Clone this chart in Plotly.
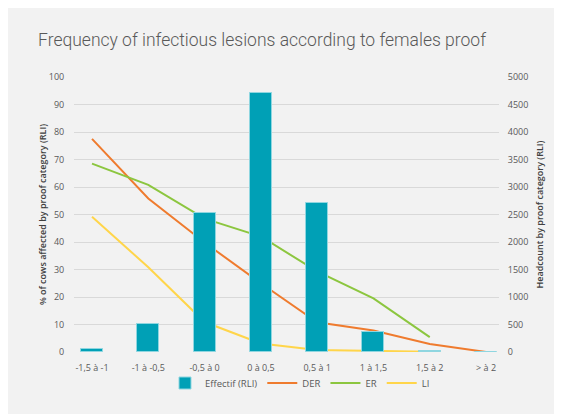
import plotly.graph_objects as go

categories = ["-1,5 à -1", "-1 à -0,5", "-0,5 à 0", "0 à 0,5", "0,5 à 1", "1 à 1,5", "1,5 à 2", "> à 2"]
effectif = [55, 510, 2530, 4710, 2710, 370, 15, 0]
der = [77.5, 55.8, 39.8, 25.0, 10.8, 7.8, 2.9, 0.0]
er = [68.5, 60.8, 48.5, 42.0, 29.3, 19.5, 5.4, None]
li = [49.2, 30.8, 10.9, 3.1, 0.7, 0.4, 0.1, None]

x = list(range(len(categories)))

# page has an 8px body margin, so the figure starts at (8, 8)
W, H = 554, 406
L, R, T, B = 66, 63, 69, 62
pw, ph = W - L - R, H - T - B

fig = go.Figure()
fig.add_trace(go.Bar(
    x=x, y=effectif, name="Effectif (RLI)", yaxis="y2",
    marker=dict(color="#00a0b6", line=dict(color="#8fd6e0", width=1)),
    width=0.39,
))
fig.add_trace(go.Scatter(x=x, y=der, name="DER", mode="lines",
                         line=dict(color="#ef7b2e", width=2)))
fig.add_trace(go.Scatter(x=x, y=er, name="ER", mode="lines",
                         line=dict(color="#8cc63f", width=2)))
fig.add_trace(go.Scatter(x=x, y=li, name="LI", mode="lines",
                         line=dict(color="#ffd54a", width=2)))

tickfont = dict(family="Open Sans, Noto Sans, sans-serif", size=9, color="#595959")
axtitlefont = dict(family="Open Sans, sans-serif", size=9, color="#404040", weight=600)

fig.update_layout(
    width=W, height=H,
    margin=dict(l=L, r=R, t=T, b=B, pad=0, autoexpand=False),
    paper_bgcolor="#f2f2f2",
    plot_bgcolor="#f2f2f2",
    title=dict(text="Frequency of infectious lesions according to females proof",
               x=(262 - 8) / W, xanchor="center", y=1 - (40 - 8) / H, yanchor="middle",
               font=dict(family="Roboto, sans-serif", size=17.5, color="#595959", weight=300)),
    xaxis=dict(range=[-0.32, 7.23], tickvals=x, ticktext=categories,
               showgrid=False, zeroline=False, showline=False, ticks="outside",
               ticklen=7, tickcolor="rgba(0,0,0,0)",
               tickfont=tickfont, fixedrange=True, automargin=False),
    yaxis=dict(range=[0, 100], dtick=10, showgrid=True, gridcolor="#d9d9d9",
               gridwidth=1, zeroline=False, showline=False, ticks="outside",
               ticklen=7, tickcolor="rgba(0,0,0,0)", automargin=False,
               tickfont=tickfont,
               title=dict(text="% of cows affected by proof category (RLI)",
                          font=axtitlefont, standoff=0)),
    yaxis2=dict(range=[0, 5000], dtick=500, overlaying="y", side="right",
                showgrid=False, zeroline=False, showline=False, ticks="outside",
                ticklen=6, tickcolor="rgba(0,0,0,0)", automargin=False,
                tickfont=tickfont,
                title=dict(text="Headcount by proof category (RLI)",
                           font=axtitlefont, standoff=9)),
    legend=dict(orientation="h", x=(300 - 8 - L) / pw, xanchor="center",
                y=-31 / ph, yanchor="middle",
                font=dict(family="Open Sans, sans-serif", size=9.5, color="#595959"),
                bgcolor="rgba(0,0,0,0)", itemwidth=30, traceorder="normal"),
    bargap=0,
)

fig.write_html("out.html")
